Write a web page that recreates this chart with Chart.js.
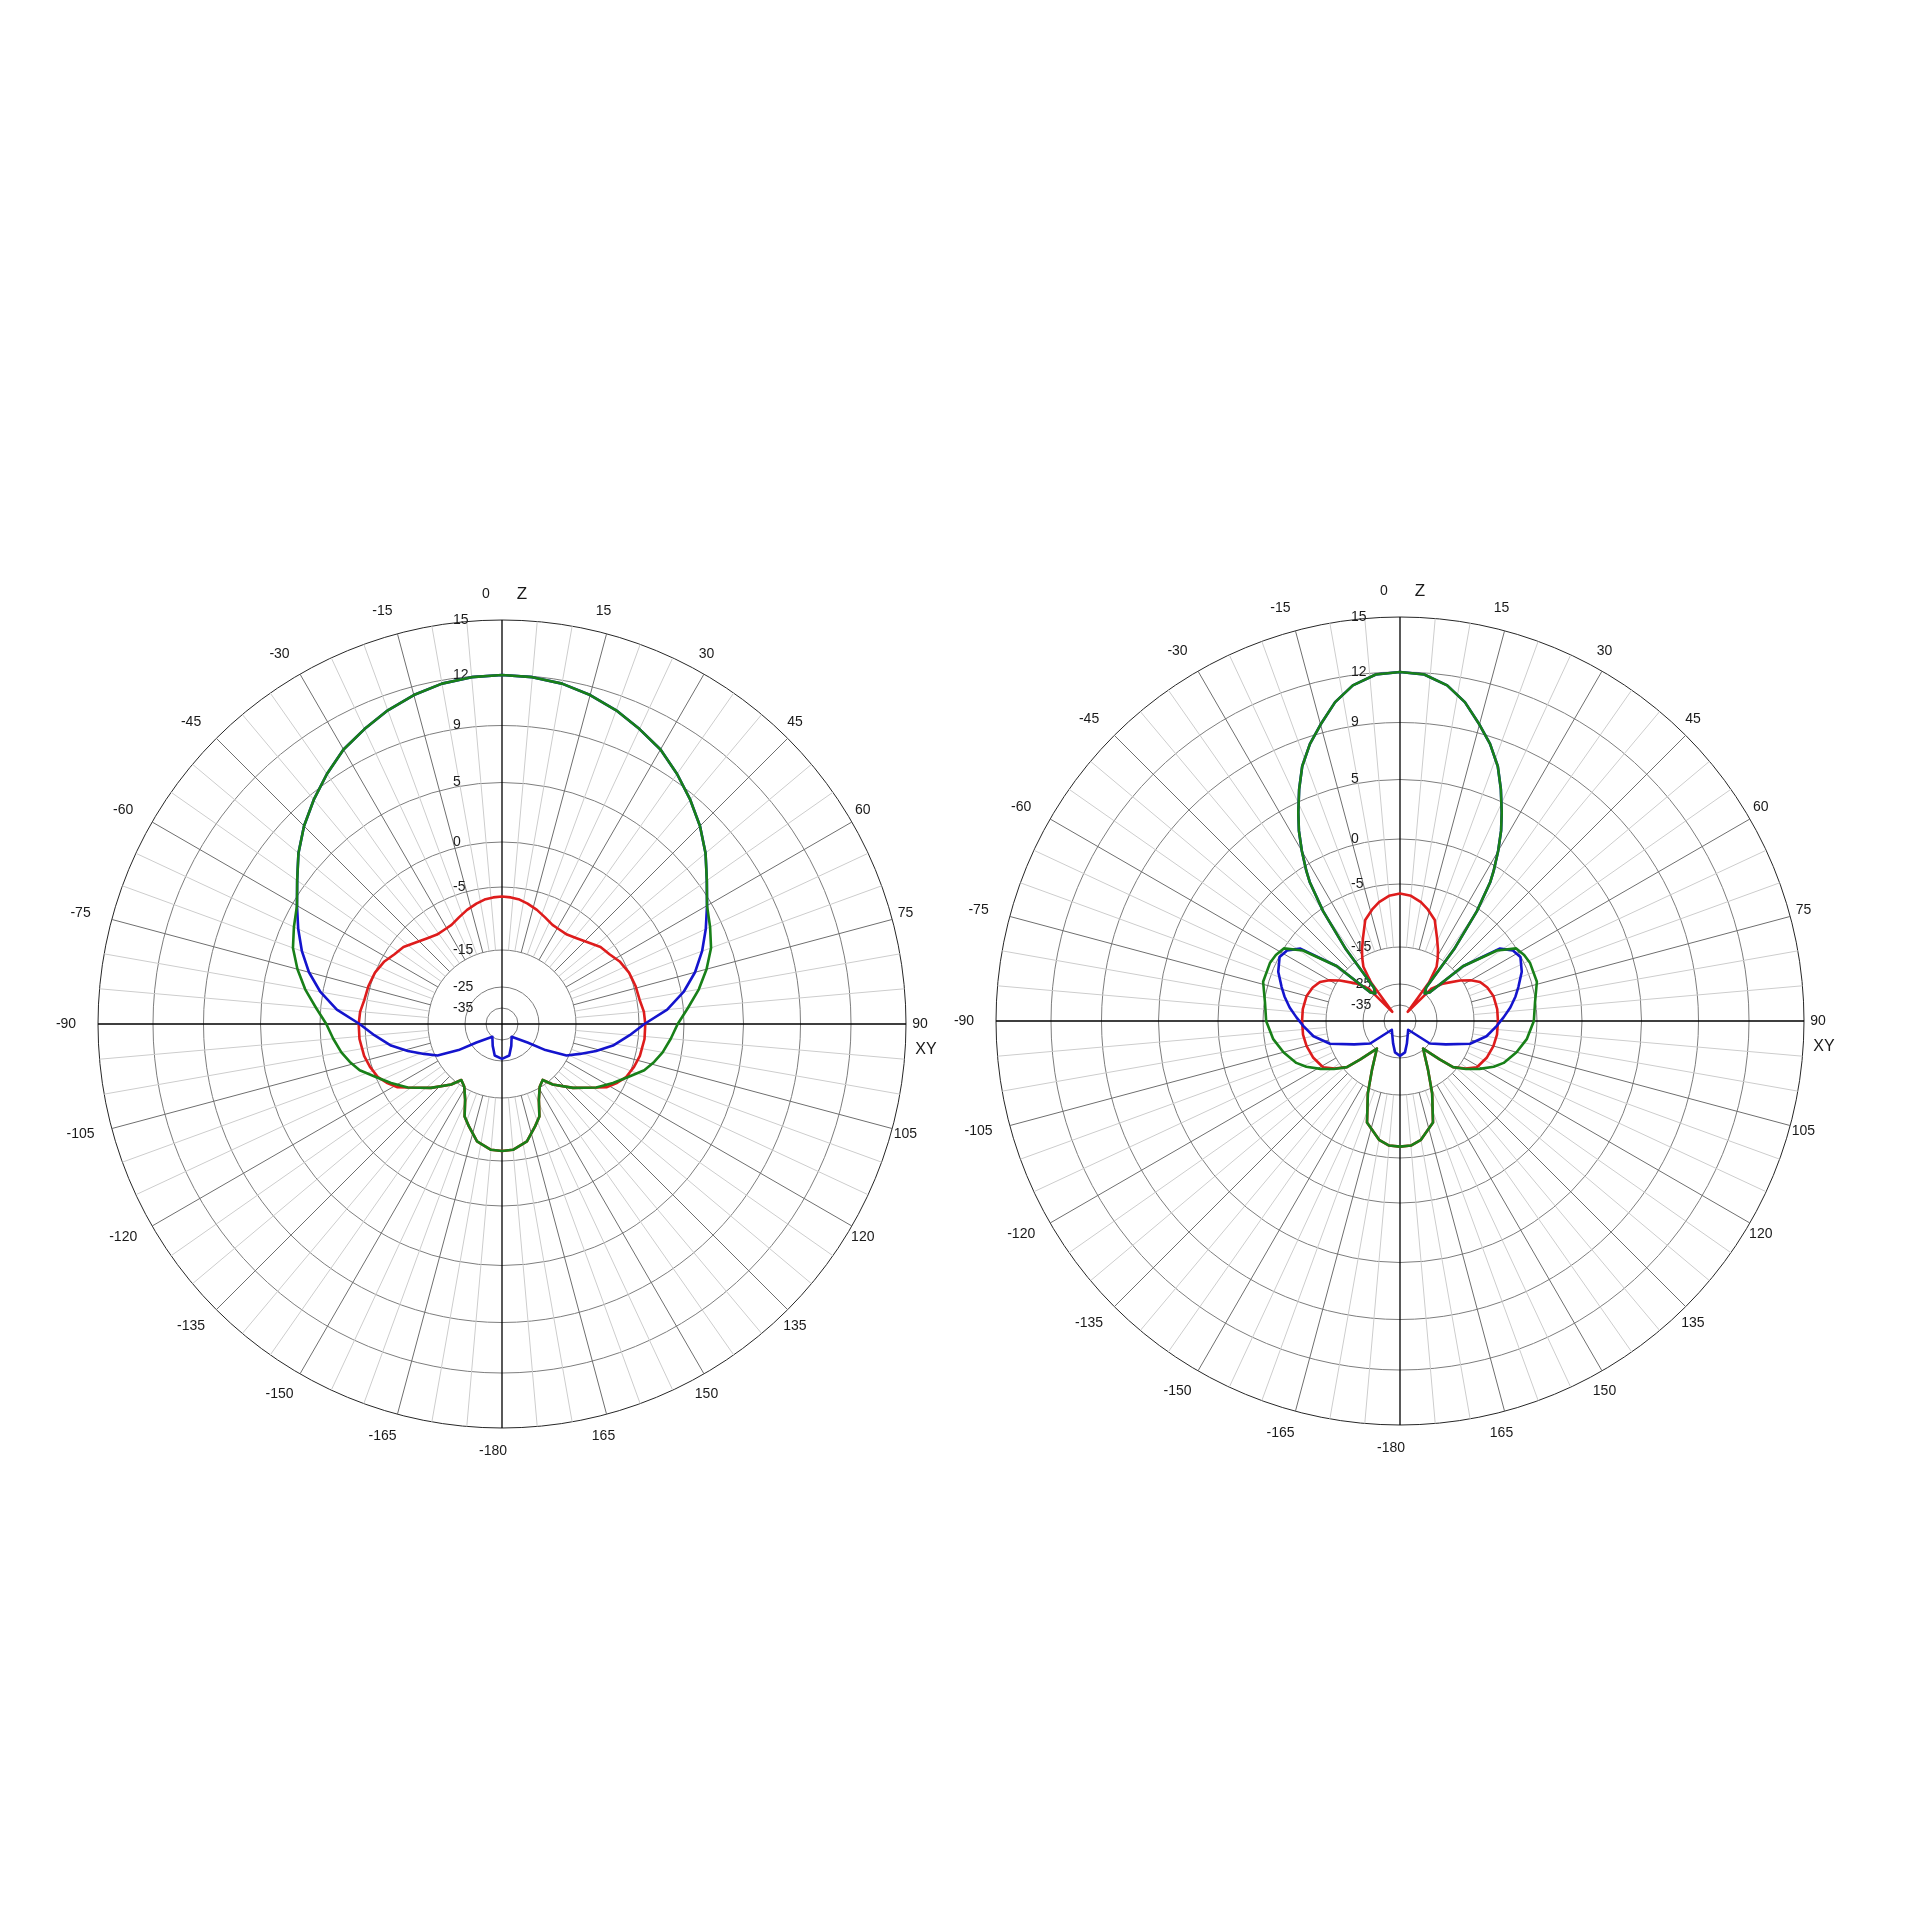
<!DOCTYPE html>
<html>
<head>
<meta charset="utf-8">
<title>Radiation pattern</title>
<script src="https://cdn.jsdelivr.net/npm/chart.js@4.4.1/dist/chart.umd.min.js"></script>
<style>
  html, body { margin: 0; padding: 0; background: #fff; }
  body { width: 1920px; height: 1920px; position: relative; overflow: hidden; }
  canvas { position: absolute; }
  #leftChart { left: 22px; top: 544px; }
  #rightChart { left: 920px; top: 541px; }
</style>
</head>
<body>
<canvas id="leftChart" width="960" height="960"></canvas>
<canvas id="rightChart" width="960" height="960"></canvas>
<script>
// ring levels (dB) and where the plot puts them (radius units, outer ring = 404)
const ringDb = [-43, -35, -25, -15, -5, 0, 5, 9, 12, 15];
const ringR  = [0, 16, 37, 74, 137, 182, 241.5, 298.5, 349, 404];
const ringLabels = ['15', '12', '9', '5', '0', '-5', '-15', '-25', '-35'];

// [angle deg, gain dB]
const leftGreen = [
  [-175,-6.7],[-168,-7.7],[-162,-9.7],[-158,-10.9],[-154,-13.4],[-149,-15.2],[-144,-16.3],[-140,-14.2],
  [-132,-11.6],[-124,-8.7],[-118,-6.8],[-113,-5.1],[-108,-3.6],[-104,-2.8],[-100,-2.1],[-95,-1.4],[-90,-0.7],
  [-85,0.4],[-80,1.5],[-75,2.5],[-70,3.4],[-65,4.0],[-60,4.6],[-55,5.6],[-50,6.7],[-45,7.7],[-40,8.6],
  [-35,9.4],[-30,10.1],[-25,10.6],[-20,11.1],[-15,11.5],[-10,11.8],[-5,11.95],[0,12.0],
  [5,11.95],[10,11.8],[15,11.5],[20,11.1],[25,10.6],[30,10.1],[35,9.4],[40,8.6],[45,7.7],[50,6.7],[55,5.6],
  [60,4.6],[65,4.0],[70,3.4],[75,2.5],[80,1.5],[85,0.4],[90,-0.7],[95,-1.4],[100,-2.1],[104,-2.8],[108,-3.6],
  [113,-5.1],[118,-6.8],[124,-8.7],[132,-11.6],[140,-14.2],[144,-16.3],[149,-15.2],[154,-13.4],[158,-10.9],
  [162,-9.7],[168,-7.7],[175,-6.7],[180,-6.6]
];
const leftBlue = [
  [-167,-27.2],[-157,-31.3],[-143,-35],[-126,-27.6],[-121,-21.3],[-116,-15.6],[-111,-13.5],[-106,-11.2],
  [-101,-8.8],[-95,-6.4],[-90,-4.4],[-85,-1.8],[-80,0.2],[-75,1.5],[-70,2.6],[-65,3.6],[-60,4.6],[-55,5.6],
  [-50,6.7],[-45,7.7],[-40,8.6],[-35,9.4],[-30,10.1],[-25,10.6],[-20,11.1],[-15,11.5],[-10,11.8],[-5,11.95],
  [0,12.0],
  [5,11.95],[10,11.8],[15,11.5],[20,11.1],[25,10.6],[30,10.1],[35,9.4],[40,8.6],[45,7.7],[50,6.7],[55,5.6],
  [60,4.6],[65,3.6],[70,2.6],[75,1.5],[80,0.2],[85,-1.8],[90,-4.4],[95,-6.4],[101,-8.8],[106,-11.2],
  [111,-13.5],[116,-15.6],[121,-21.3],[126,-27.6],[143,-35],[157,-31.3],[167,-27.2],[180,-26.0]
];
const leftRed = [
  [-175,-6.7],[-168,-7.7],[-162,-9.7],[-158,-10.9],[-154,-13.4],[-149,-15.2],[-144,-16.3],[-140,-14.2],
  [-132,-11.6],[-124,-8.7],[-121,-7.3],[-117,-6.2],[-113,-5.3],[-108,-4.8],[-103,-4.5],[-96,-4.3],[-90,-4.3],
  [-85,-4.4],[-80,-4.7],[-74,-4.8],[-68,-5.0],[-62,-5.6],[-57,-6.4],[-52,-6.9],[-46,-8.0],[-41,-8.7],
  [-36,-9.2],[-31,-9.2],[-27,-9.1],[-22,-8.5],[-17,-7.8],[-12,-7.2],[-8,-6.8],[-4,-6.6],[0,-6.5],
  [4,-6.6],[8,-6.8],[12,-7.2],[17,-7.8],[22,-8.5],[27,-9.1],[31,-9.2],[36,-9.2],[41,-8.7],[46,-8.0],
  [52,-6.9],[57,-6.4],[62,-5.6],[68,-5.0],[74,-4.8],[80,-4.7],[85,-4.4],[90,-4.3],[96,-4.3],[103,-4.5],
  [108,-4.8],[113,-5.3],[117,-6.2],[121,-7.3],[124,-8.7],[132,-11.6],[140,-14.2],[144,-16.3],[149,-15.2],
  [154,-13.4],[158,-10.9],[162,-9.7],[168,-7.7],[175,-6.7],[180,-6.6]
];

const rightGreen = [
  [-175,-6.9],[-170,-7.6],[-162,-9.8],[-156,-14.2],[-150,-19.9],[-140,-25.5],[-134,-20.1],[-131,-16.0],
  [-126,-13.8],[-121,-12.0],[-116,-10.2],[-112,-9.0],[-105,-7.6],[-98,-6.4],[-90,-5.5],[-82,-5.1],
  [-74,-4.4],[-66,-4.4],[-62,-4.6],[-58,-5.0],[-54,-7.7],[-49,-13.5],[-46,-23.9],[-42,-25.0],[-38,-23.5],
  [-37,-12.5],[-35,-5.5],[-33,-1.8],[-32,-0.6],[-30,1.2],[-28,2.8],[-26,4.2],[-23.5,5.8],[-21,7.2],
  [-18,8.5],[-15,9.5],[-11.5,10.6],[-8,11.4],[-4,11.9],[0,12.0],
  [4,11.9],[8,11.4],[11.5,10.6],[15,9.5],[18,8.5],[21,7.2],[23.5,5.8],[26,4.2],[28,2.8],[30,1.2],
  [32,-0.6],[33,-1.8],[35,-5.5],[37,-12.5],[38,-23.5],[42,-25.0],[46,-23.9],[49,-13.5],[54,-7.7],[58,-5.0],
  [62,-4.6],[66,-4.4],[74,-4.4],[82,-5.1],[90,-5.5],[98,-6.4],[105,-7.6],[112,-9.0],[116,-10.2],[121,-12.0],
  [126,-13.8],[131,-16.0],[134,-20.1],[140,-25.5],[150,-19.9],[156,-14.2],[162,-9.8],[170,-7.6],[175,-6.9],
  [180,-6.8]
];
const rightBlue = [
  [-171,-27.5],[-163,-31.4],[-137,-37],[-127,-24.9],[-117,-21.1],[-108,-15.1],[-100,-12.8],[-93,-11.4],
  [-88,-10.3],[-83,-9.1],[-78,-8.0],[-74,-7.2],[-68,-5.9],[-62,-5.1],[-58,-5.6],[-54,-7.2],[-49,-13.5],
  [-46,-23.9],[-42,-25.0],[-38,-23.5],[-37,-12.5],[-35,-5.5],[-33,-1.8],[-32,-0.6],[-30,1.2],[-28,2.8],
  [-26,4.2],[-23.5,5.8],[-21,7.2],[-18,8.5],[-15,9.5],[-11.5,10.6],[-8,11.4],[-4,11.9],[0,12.0],
  [4,11.9],[8,11.4],[11.5,10.6],[15,9.5],[18,8.5],[21,7.2],[23.5,5.8],[26,4.2],[28,2.8],[30,1.2],
  [32,-0.6],[33,-1.8],[35,-5.5],[37,-12.5],[38,-23.5],[42,-25.0],[46,-23.9],[49,-13.5],[54,-7.2],[58,-5.6],
  [62,-5.1],[68,-5.9],[74,-7.2],[78,-8.0],[83,-9.1],[88,-10.3],[93,-11.4],[100,-12.8],[108,-15.1],
  [117,-21.1],[127,-24.9],[137,-37],[163,-31.4],[171,-27.5],[180,-26.0]
];
const rightRed = [
  [-175,-6.9],[-170,-7.6],[-162,-9.8],[-156,-14.2],[-150,-19.9],[-140,-25.5],[-134,-20.1],[-131,-16.0],
  [-126,-13.9],[-121,-12.5],[-113,-11.8],[-105,-11.4],[-98,-11.2],[-90,-11.2],[-83,-11.2],[-75,-11.4],
  [-69,-11.9],[-64,-12.6],[-60,-13.8],[-56,-15.4],[-49,-19.6],[-44,-23.0],[-40,-37],[-37,-22.0],
  [-34,-17.3],[-31,-15.2],[-28,-13.9],[-24,-12.3],[-19,-9.8],[-14,-8.5],[-10,-7.6],[-5,-6.8],[0,-6.5],
  [5,-6.8],[10,-7.6],[14,-8.5],[19,-9.8],[24,-12.3],[28,-13.9],[31,-15.2],[34,-17.3],[37,-22.0],[40,-37],
  [44,-23.0],[49,-19.6],[56,-15.4],[60,-13.8],[64,-12.6],[69,-11.9],[75,-11.4],[83,-11.2],[90,-11.2],
  [98,-11.2],[105,-11.4],[113,-11.8],[121,-12.5],[126,-13.9],[131,-16.0],[134,-20.1],[140,-25.5],
  [150,-19.9],[156,-14.2],[162,-9.8],[170,-7.6],[175,-6.9],[180,-6.8]
];

const GREEN = 'rgb(24,128,24)';
const BLUE = 'rgb(20,20,205)';
const RED = 'rgb(222,28,28)';
const FONT = "'Liberation Sans', Arial, sans-serif";

// dB -> radius along the non linear ring scale
function toRadius(db){
  if(db <= ringDb[0]) return 0;
  for(let i=1;i<ringDb.length;i++){
    if(db <= ringDb[i]){
      const t = (db - ringDb[i-1])/(ringDb[i]-ringDb[i-1]);
      return ringR[i-1] + t*(ringR[i]-ringR[i-1]);
    }
  }
  return ringR[ringR.length-1];
}

// 720 slots (half a degree each), clockwise from the top; empty slots are spanned
function buildSeries(pairs){
  const arr = new Array(720).fill(null);
  pairs.forEach(([a, v]) => { arr[Math.round((a + 360) * 2) % 720] = toRadius(v); });
  return arr;
}

function angleText(d){
  if(d === 180) return '-180';
  return String(d < 180 ? d : d - 360);
}

const polarDecor = {
  id: 'polarDecor',
  beforeDatasetsDraw(chart){
    const s = chart.scales.r;
    const ctx = chart.ctx;
    const cx = s.xCenter, cy = s.yCenter;
    const rOut = s.drawingArea;
    const rIn = s.getDistanceFromCenterForValue(toRadius(-15));
    const at = (deg, r) => s.getPointPosition(deg * 2, r);
    ctx.save();
    ctx.lineWidth = 1;

    // spokes, light every 5 deg then darker every 15 deg
    [false, true].forEach(major => {
      ctx.strokeStyle = major ? '#6f6f6f' : '#cdcdcd';
      ctx.beginPath();
      for(let d=5; d<360; d+=5){
        if(d % 90 === 0) continue;
        if((d % 15 === 0) !== major) continue;
        const a = at(d, rIn), b = at(d, rOut);
        ctx.moveTo(a.x, a.y); ctx.lineTo(b.x, b.y);
      }
      ctx.stroke();
    });

    // main axes
    ctx.strokeStyle = '#000';
    ctx.lineWidth = 1.3;
    ctx.beginPath();
    [[0,180],[90,270]].forEach(([p,q]) => {
      const a = at(p, rOut), b = at(q, rOut);
      ctx.moveTo(a.x, a.y); ctx.lineTo(b.x, b.y);
    });
    ctx.stroke();

    // ring labels
    ctx.fillStyle = '#1a1a1a';
    ctx.font = '14px ' + FONT;
    ctx.textAlign = 'left';
    ctx.textBaseline = 'middle';
    ringLabels.forEach(t => {
      const r = s.getDistanceFromCenterForValue(toRadius(parseFloat(t)));
      ctx.fillText(t, cx - 49, cy - r);
    });

    // angle labels
    ctx.textAlign = 'center';
    for(let d=15; d<360; d+=15){
      const p = at(d, rOut + 23);
      ctx.fillText(angleText(d), p.x - 9, p.y);
    }
    const top = at(0, rOut + 26);
    ctx.fillText('0', top.x - 16, top.y);
    ctx.font = '17px ' + FONT;
    ctx.fillText('Z', top.x + 20, top.y);
    const side = at(90, rOut);
    ctx.font = '16px ' + FONT;
    ctx.fillText('XY', side.x + 20, side.y + 26);
    ctx.restore();
  }
};

const stepLabels = Array.from({length: 720}, (_, i) => i / 2);

function makeChart(id, green, blue, red){
  const mk = (data, color) => ({
    data: buildSeries(data), borderColor: color, borderWidth: 2.6,
    fill: false, spanGaps: true, tension: 0, pointRadius: 0, pointHoverRadius: 0,
    borderJoinStyle: 'round'
  });
  return new Chart(document.getElementById(id), {
    type: 'radar',
    data: { labels: stepLabels, datasets: [mk(green, GREEN), mk(blue, BLUE), mk(red, RED)] },
    options: {
      responsive: false,
      animation: false,
      events: [],
      layout: { padding: 76 },
      plugins: { legend: { display: false }, tooltip: { enabled: false } },
      scales: {
        r: {
          min: 0, max: 404,
          startAngle: 0,
          angleLines: { display: false },
          pointLabels: { display: false },
          ticks: { display: false },
          grid: {
            circular: true, lineWidth: 1,
            color: c => (c.tick && c.tick.value >= 404) ? '#262626' : '#7d7d7d'
          },
          afterBuildTicks: axis => { axis.ticks = ringR.map(v => ({ value: v })); }
        }
      }
    },
    plugins: [polarDecor]
  });
}

makeChart('leftChart', leftGreen, leftBlue, leftRed);
makeChart('rightChart', rightGreen, rightBlue, rightRed);
</script>
</body>
</html>
